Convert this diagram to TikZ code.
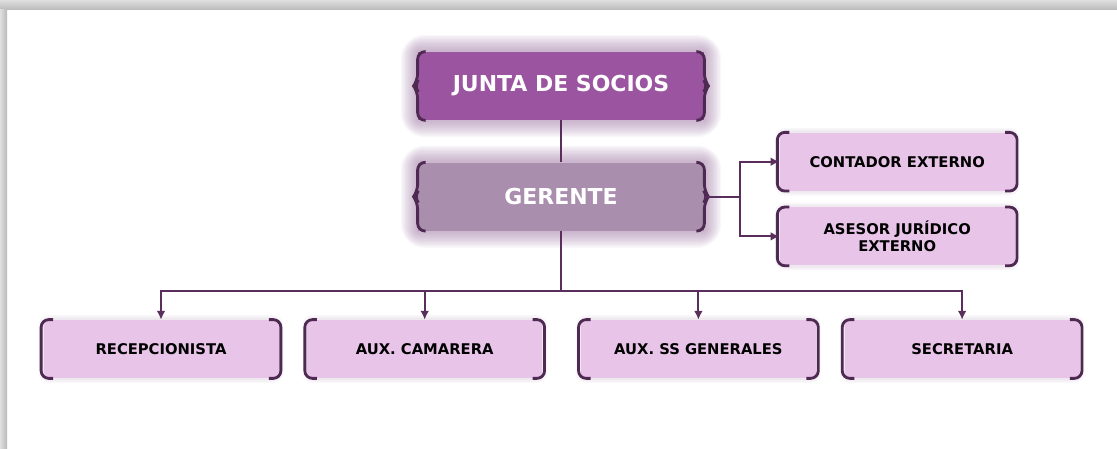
\documentclass[tikz,border=0pt]{standalone}
\usepackage{fontspec}
\setmainfont{DejaVu Sans}
\usetikzlibrary{positioning,arrows.meta,backgrounds}

\definecolor{juntapurple}{HTML}{9B55A0}
\definecolor{gerentepurple}{HTML}{A98EAE}
\definecolor{boxpink}{HTML}{E8C4E8}
\definecolor{linkpurple}{HTML}{5A2E5C}
\definecolor{barpurple}{HTML}{4E2A52}
\definecolor{glowpurple}{HTML}{9A72A0}

% side bars of a box: ( ... )
\newcommand{\sidebars}[1]{%
	\draw[bar] ([xshift=0.2cm]#1.north west) -- ([xshift=-0.04cm]#1.north west) -- ([xshift=-0.04cm]#1.south west) -- ([xshift=0.2cm]#1.south west);
	\draw[bar] ([xshift=-0.2cm]#1.north east) -- ([xshift=0.04cm]#1.north east) -- ([xshift=0.04cm]#1.south east) -- ([xshift=-0.2cm]#1.south east);
}
% side braces of a box: { ... }
\newcommand{\sidebraces}[1]{%
	\draw[bar] ([xshift=0.16cm]#1.north west) -- (#1.north west) -- ([yshift=0.1cm]#1.west) -- ([xshift=-0.08cm]#1.west) -- ([yshift=-0.1cm]#1.west) -- (#1.south west) -- ([xshift=0.16cm]#1.south west);
	\draw[bar] ([xshift=-0.16cm]#1.north east) -- (#1.north east) -- ([yshift=0.1cm]#1.east) -- ([xshift=0.08cm]#1.east) -- ([yshift=-0.1cm]#1.east) -- (#1.south east) -- ([xshift=-0.16cm]#1.south east);
}

\begin{document}
\begin{tikzpicture}[node distance=0.84cm,
	headbox/.style={rectangle, minimum width=5.72cm, minimum height=1.36cm, inner sep=0pt, text=white, font=\fontsize{12.5}{15}\selectfont\bfseries},
	staffbox/.style={rectangle, fill=boxpink, minimum width=4.7cm, minimum height=1.16cm, inner sep=0pt, align=center, font=\fontsize{8.4}{9.6}\selectfont\bfseries},
	link/.style={draw=linkpurple, line width=1.1pt},
	arrow/.style={link, -{Latex[length=5pt,width=5pt]}},
	bar/.style={draw=barpurple, line width=1.6pt, rounded corners=0.15cm}]

	\useasboundingbox (0,0) rectangle (22.34,8.98);
	% frame
	\shade[top color=gray!25, bottom color=gray!55] (0,8.78) rectangle (22.34,8.98);
	\shade[left color=gray!25, right color=gray!55] (0,0) rectangle (0.14,8.78);

	\node (junta) [headbox, fill=juntapurple] at (11.22,7.26) {JUNTA DE SOCIOS};
	\node (gerente) [headbox, fill=gerentepurple, below=of junta] {GERENTE};
	\node (contador) [staffbox, right=1.5cm of gerente, yshift=0.7cm] {CONTADOR EXTERNO};
	\node (asesor) [staffbox, below=0.32cm of contador] {ASESOR JURÍDICO\\EXTERNO};

	\node (recep) [staffbox] at (3.22,2.0) {RECEPCIONISTA};
	\node (camarera) [staffbox, right=0.56cm of recep] {AUX. CAMARERA};
	\node (generales) [staffbox, right=0.76cm of camarera] {AUX. SS GENERALES};
	\node (secretaria) [staffbox, right=0.56cm of generales] {SECRETARIA};

	\begin{scope}[on background layer]
		\foreach \n in {junta,gerente}
			\foreach \g in {1,...,12}
				\fill[glowpurple, opacity=0.06, rounded corners=\g*0.04cm] ([shift={(-\g*0.028,\g*0.028)}]\n.north west) rectangle ([shift={(\g*0.028,-\g*0.028)}]\n.south east);
		\foreach \n in {contador,asesor,recep,camarera,generales,secretaria}
			\foreach \g in {1,2,3}
				\fill[glowpurple, opacity=0.06, rounded corners=0.2cm] ([shift={(-\g*0.03,\g*0.03)}]\n.north west) rectangle ([shift={(\g*0.03,-\g*0.03)}]\n.south east);
	\end{scope}

	\sidebraces{junta}
	\sidebraces{gerente}
	\sidebars{contador}
	\sidebars{asesor}
	\sidebars{recep}
	\sidebars{camarera}
	\sidebars{generales}
	\sidebars{secretaria}

	\draw[link] (junta) -- (gerente);
	\draw[link] (gerente.east) -- ++(0.72,0) coordinate (split);
	\draw[arrow] (split) |- (contador.west);
	\draw[arrow] (split) |- (asesor.west);

	\draw[link] (gerente.south) -- ++(0,-1.2) coordinate (bus);
	\draw[arrow] (bus) -| (recep.north);
	\draw[arrow] (bus) -| (camarera.north);
	\draw[arrow] (bus) -| (generales.north);
	\draw[arrow] (bus) -| (secretaria.north);
\end{tikzpicture}
\end{document}
